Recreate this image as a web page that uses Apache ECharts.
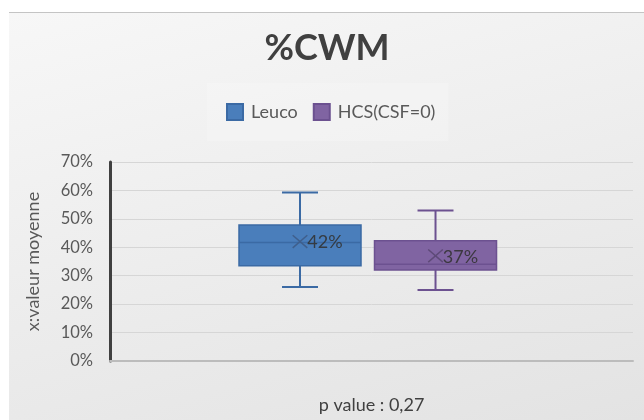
<!DOCTYPE html>
<html><head><meta charset="utf-8">
<script src="https://cdn.jsdelivr.net/npm/echarts@6/dist/echarts.min.js"></script>
<style>
html,body{margin:0;padding:0;background:#fff;}
#bg{position:absolute;left:9px;top:12px;width:635px;height:407px;border-top:1px solid #c4c4c4;
background:linear-gradient(165deg,#f7f7f7 0%,#eeeeee 45%,#e3e3e3 100%);}
#c{position:absolute;left:0;top:0;width:644px;height:420px;}
</style>
</head><body><div id="bg"></div><div id="c"></div>
<script>
// ---- data ----
const categories = ['%CWM'];
const seriesNames = ['Leuco', 'HCS(CSF=0)'];
// [min, Q1, median, Q3, max]
const leucoBox = [0.26, 0.335, 0.417, 0.478, 0.593];
const hcsBox = [0.25, 0.32, 0.34, 0.423, 0.529];
const leucoMean = [0.42];
const hcsMean = [0.37];
const yTickValues = [0, 0.1, 0.2, 0.3, 0.4, 0.5, 0.6, 0.7];
const titleText = '%CWM';
const yAxisTitle = 'x:valeur moyenne';
const xAxisTitle = 'p value : 0,27';

// ---- styles ----
const FONT = 'Lato';
const seriesStyles = [
  { fill: '#4a7ebb', stroke: '#3b6aa4', mark: '#3f5f8c', offset: -0.1367 },
  { fill: '#8064a2', stroke: '#6c5190', mark: '#5e4a78', offset: 0.1224 }
];

function makeRender(st) {
  return function (params, api) {
    const cat = api.value(0);
    const v = [1, 2, 3, 4, 5].map(i => api.value(i));
    const mean = api.value(6);
    const band = api.size([1, 0])[0];
    const cx = api.coord([cat, 0])[0] + band * st.offset;
    const y = val => api.coord([cat, val])[1];
    const bw = band * 0.2333;
    const cw = band * 0.0688;
    const [yMin, yQ1, yMed, yQ3, yMax] = v.map(y);
    const ym = y(mean);
    const lineStyle = { stroke: st.stroke, lineWidth: 2 };
    const mx = 7.3, my = 6.3;
    return {
      type: 'group',
      children: [
        { type: 'line', shape: { x1: cx, y1: yMin, x2: cx, y2: yMax }, style: lineStyle },
        { type: 'line', shape: { x1: cx - cw / 2, y1: yMin, x2: cx + cw / 2, y2: yMin }, style: lineStyle },
        { type: 'line', shape: { x1: cx - cw / 2, y1: yMax, x2: cx + cw / 2, y2: yMax }, style: lineStyle },
        { type: 'rect', shape: { x: cx - bw / 2, y: yQ3, width: bw, height: yQ1 - yQ3 },
          style: { fill: st.fill, stroke: st.stroke, lineWidth: 1.5 } },
        { type: 'line', shape: { x1: cx - bw / 2, y1: yMed, x2: cx + bw / 2, y2: yMed },
          style: { stroke: st.stroke, lineWidth: 1.5 } },
        { type: 'line', shape: { x1: cx - mx, y1: ym - my, x2: cx + mx, y2: ym + my },
          style: { stroke: st.mark, lineWidth: 1.5 } },
        { type: 'line', shape: { x1: cx - mx, y1: ym + my, x2: cx + mx, y2: ym - my },
          style: { stroke: st.mark, lineWidth: 1.5 } },
        { type: 'text', style: { text: Math.round(mean * 100) + '%', x: cx + mx, y: ym + 1,
          align: 'left', verticalAlign: 'middle', font: '18px ' + FONT, fill: 'rgba(50,50,50,0.88)' } }
      ]
    };
  };
}

const chart = echarts.init(document.getElementById('c'), null, { renderer: 'canvas' });
chart.setOption({
  backgroundColor: 'transparent',
  animation: false,
  title: {
    text: titleText,
    left: 327,
    textAlign: 'center',
    top: 30,
    padding: 0,
    textStyle: { fontFamily: FONT, fontWeight: 'bold', fontSize: 36, color: '#404040' }
  },
  legend: {
    data: seriesNames,
    left: 207,
    top: 83,
    padding: [20, 13, 20, 19],
    backgroundColor: 'rgba(255,255,255,0.2)',
    itemWidth: 16,
    itemHeight: 16,
    itemGap: 15,
    icon: 'rect',
    textStyle: { fontFamily: FONT, fontSize: 18, color: '#595959', padding: [0, 0, 0, 3] }
  },
  grid: { left: 110, right: 11, top: 162, bottom: 59, outerBoundsMode: 'none', containLabel: false },
  xAxis: {
    type: 'category',
    data: categories,
    axisLabel: { show: false },
    axisTick: { show: false },
    axisLine: { show: true, lineStyle: { color: '#bcbcbc', width: 2 } },
    splitLine: { show: false },
    name: xAxisTitle,
    nameLocation: 'middle',
    nameGap: 35,
    nameTextStyle: { fontFamily: FONT, fontSize: 18, color: '#404040' }
  },
  yAxis: {
    type: 'value',
    min: yTickValues[0],
    max: yTickValues[yTickValues.length - 1],
    interval: yTickValues[1] - yTickValues[0],
    axisLine: { show: true, lineStyle: { color: '#404040', width: 3 } },
    axisTick: { show: false },
    axisLabel: { formatter: v => Math.round(v * 100) + '%', fontFamily: FONT, fontSize: 16.5,
      color: '#595959', margin: 17 },
    splitLine: { show: true, lineStyle: { color: '#d6d6d6', width: 1 } },
    name: yAxisTitle,
    nameLocation: 'middle',
    nameGap: 68,
    nameTextStyle: { fontFamily: FONT, fontSize: 18, color: '#595959' }
  },
  series: [
    {
      name: seriesNames[0], type: 'custom',
      renderItem: makeRender(seriesStyles[0]),
      itemStyle: { color: seriesStyles[0].fill, borderColor: seriesStyles[0].stroke, borderWidth: 1 },
      encode: { x: 0, y: [1, 2, 3, 4, 5] },
      data: [[0, ...leucoBox, leucoMean[0]]],
      z: 3
    },
    {
      name: seriesNames[1], type: 'custom',
      renderItem: makeRender(seriesStyles[1]),
      itemStyle: { color: seriesStyles[1].fill, borderColor: seriesStyles[1].stroke, borderWidth: 1 },
      encode: { x: 0, y: [1, 2, 3, 4, 5] },
      data: [[0, ...hcsBox, hcsMean[0]]],
      z: 3
    }
  ]
});
</script>
</body></html>
